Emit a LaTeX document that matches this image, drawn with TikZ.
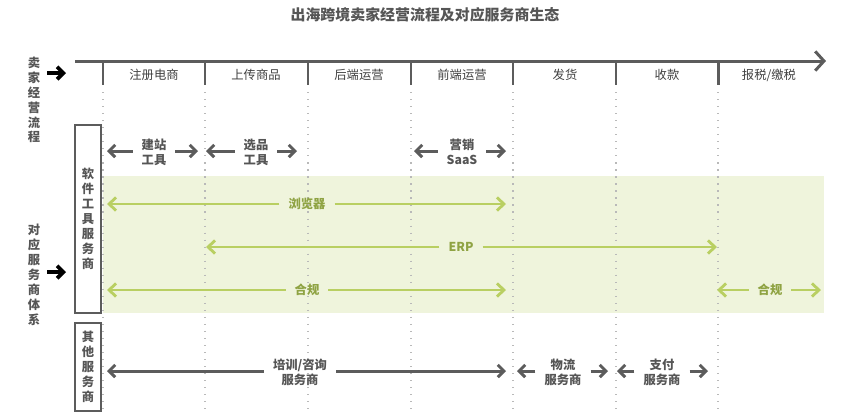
\documentclass[tikz,border=0pt]{standalone}
\usepackage{fontspec}
\setmainfont{Noto Sans CJK SC}
\usepackage{xcolor}
\usetikzlibrary{arrows.meta}
\definecolor{axisgray}{HTML}{5C5C5C}
\definecolor{txtgray}{HTML}{555555}
\definecolor{bandgreen}{HTML}{EFF4DC}
\definecolor{linegreen}{HTML}{B9CF62}
\definecolor{txtgreen}{HTML}{8FA343}

\begin{document}
\begin{tikzpicture}[
  x=0.02cm, y=-0.02cm,
  font=\fontsize{7}{8.5}\selectfont, text=txtgray,
  stage/.style={inner sep=0pt, text=black!75},
  vlabel/.style={align=center, inner sep=0pt, font=\fontsize{7}{8.5}\selectfont\bfseries},
  sbox/.style={draw=axisgray, line width=0.8pt, minimum width=0.52cm, align=center, inner sep=0pt, font=\fontsize{7}{8.5}\selectfont\bfseries},
  lab/.style={align=center, inner xsep=5pt, inner ysep=0pt, font=\fontsize{7}{8.5}\selectfont\bfseries},
  glab/.style={lab, text=txtgreen},
  tick/.style={draw=axisgray, line width=1.7pt},
  sep/.style={draw=gray!55, line width=0.7pt, dash pattern=on 0.7pt off 3.3pt},
  garr/.style={-{Straight Barb[length=3.5pt, width=7pt]}, draw=axisgray, line width=1.7pt},
  larr/.style={-{Straight Barb[length=4pt, width=7.5pt]}, draw=linegreen, line width=1.6pt},
  barr/.style={-{Straight Barb[length=3.5pt, width=7pt]}, draw=black, line width=2.2pt}
]
  \useasboundingbox (0,0) rectangle (849,414);

  % title
  \node[font=\fontsize{8.5}{10}\selectfont\bfseries] (title) at (425,15) {出海跨境卖家经营流程及对应服务商生态};

  % green band behind the software tools
  \fill[bandgreen] (103,176) rectangle (824,313);

  % time line with stages
  \coordinate (ax0) at (75,61);
  \coordinate (ax1) at (826,61);
  \draw[draw=axisgray, line width=1.7pt, -{Straight Barb[length=5pt, width=11pt]}] (ax0) -- (ax1);
  \foreach \x in {103,205,308,411,513,616,718} {
    \draw[tick] (\x,60) -- (\x,85);
    \draw[sep] (\x,92) -- (\x,410);
  }
  \foreach \x/\t/\n in {154/注册电商/st1, 256/上传商品/st2, 359/后端运营/st3, 462/前端运营/st4,
                        565/发货/st5, 667/收款/st6, 769/{报税/缴税}/st7}
    \node[stage] (\n) at (\x,75) {\t};

  % left side labels
  \node[vlabel] (flow) at (34,100) {卖\\家\\经\\营\\流\\程};
  \node[vlabel] (eco) at (34,275) {对\\应\\服\\务\\商\\体\\系};
  \coordinate (fa0) at (47,73); \coordinate (fa1) at (66,73);
  \coordinate (ea0) at (47,272); \coordinate (ea1) at (66,272);
  \draw[barr] (fa0) -- (fa1);
  \draw[barr] (ea0) -- (ea1);

  % provider boxes
  \node[sbox, minimum height=3.76cm] (soft) at (88,219) {软\\件\\工\\具\\服\\务\\商};
  \node[sbox, minimum height=1.76cm] (other) at (88,367) {其\\他\\服\\务\\商};

  % software tools
  \node[lab] (jz) at (154,152) {建站\\工具};
  \node[lab] (xp) at (256,152) {选品\\工具};
  \node[lab] (yx) at (462,152) {营销\\SaaS};
  \coordinate (jzL) at (107,151); \coordinate (jzR) at (198,151);
  \coordinate (xpL) at (206,151); \coordinate (xpR) at (297,151);
  \coordinate (yxL) at (414,151); \coordinate (yxR) at (506,151);
  \draw[garr] (jz.west |- jzL) -- (jzL); \draw[garr] (jz.east |- jzR) -- (jzR);
  \draw[garr] (xp.west |- xpL) -- (xpL); \draw[garr] (xp.east |- xpR) -- (xpR);
  \draw[garr] (yx.west |- yxL) -- (yxL); \draw[garr] (yx.east |- yxR) -- (yxR);

  \node[glab] (llq) at (307,204) {浏览器};
  \node[glab] (erp) at (461,247) {ERP};
  \node[glab] (hg1) at (307,290) {合规};
  \node[glab] (hg2) at (770,290) {合规};
  \coordinate (llqL) at (107,204); \coordinate (llqR) at (506,204);
  \coordinate (erpL) at (206,247); \coordinate (erpR) at (717,247);
  \coordinate (hg1L) at (107,290); \coordinate (hg1R) at (506,290);
  \coordinate (hg2L) at (717,290); \coordinate (hg2R) at (821,290);
  \draw[larr] (llq.west) -- (llqL); \draw[larr] (llq.east) -- (llqR);
  \draw[larr] (erp.west) -- (erpL); \draw[larr] (erp.east) -- (erpR);
  \draw[larr] (hg1.west) -- (hg1L); \draw[larr] (hg1.east) -- (hg1R);
  \draw[larr] (hg2.west) -- (hg2L); \draw[larr] (hg2.east) -- (hg2R);

  % other providers
  \node[lab] (px) at (300,372) {培训/咨询\\服务商};
  \node[lab] (wl) at (563,372) {物流\\服务商};
  \node[lab] (zf) at (662,372) {支付\\服务商};
  \coordinate (pxL) at (107,371); \coordinate (pxR) at (506,371);
  \coordinate (wlL) at (517,371); \coordinate (wlR) at (608,371);
  \coordinate (zfL) at (617,371); \coordinate (zfR) at (708,371);
  \draw[garr] (px.west |- pxL) -- (pxL); \draw[garr] (px.east |- pxR) -- (pxR);
  \draw[garr] (wl.west |- wlL) -- (wlL); \draw[garr] (wl.east |- wlR) -- (wlR);
  \draw[garr] (zf.west |- zfL) -- (zfL); \draw[garr] (zf.east |- zfR) -- (zfR);
\end{tikzpicture}
\end{document}
